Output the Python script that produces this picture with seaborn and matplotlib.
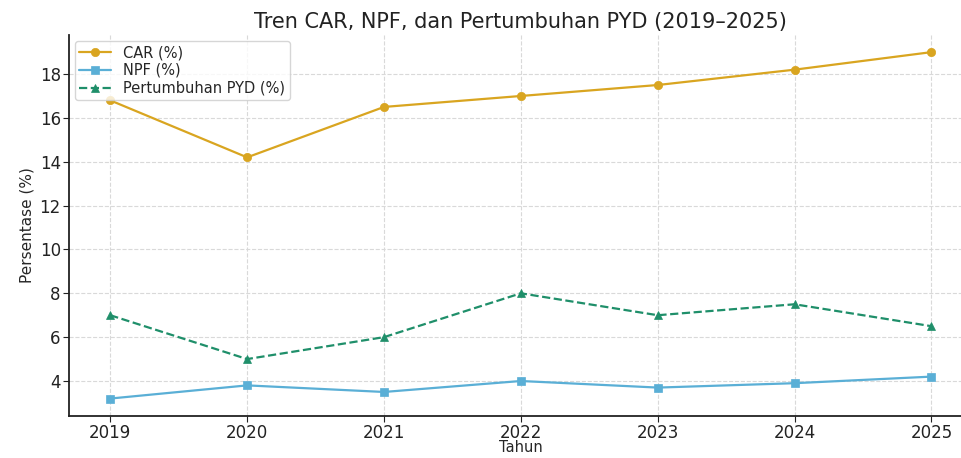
import matplotlib
matplotlib.use("Agg")
import matplotlib.pyplot as plt
import seaborn as sns

# data
tahun = [2019, 2020, 2021, 2022, 2023, 2024, 2025]
car = [16.8, 14.2, 16.5, 17.0, 17.5, 18.2, 19.0]
npf = [3.2, 3.8, 3.5, 4.0, 3.7, 3.9, 4.2]
pyd = [7.0, 5.0, 6.0, 8.0, 7.0, 7.5, 6.5]

sns.set_style("whitegrid", {"grid.linestyle": "--", "grid.color": "#d9d9d9",
                            "axes.edgecolor": "#222222",
                            "xtick.bottom": True, "ytick.left": True})

fig = plt.figure(figsize=(9.61, 4.58), dpi=100)
# axes run a bit past the right edge, like the cropped original
ax = fig.add_axes([0.072, 0.092, 0.94, 0.832])

series = [
    (car, "#d9a520", "o", "-", "CAR (%)"),
    (npf, "#5aafd6", "s", "-", "NPF (%)"),
    (pyd, "#1f8f6a", "^", "--", "Pertumbuhan PYD (%)"),
]
for vals, col, mk, ls, lab in series:
    sns.lineplot(x=tahun, y=vals, ax=ax, color=col, marker=mk, markersize=6,
                 markeredgecolor=col, markeredgewidth=0.5, linewidth=1.6,
                 linestyle=ls, label=lab)

sns.despine(ax=ax)
for s in ["left", "bottom"]:
    ax.spines[s].set_linewidth(1.3)
ax.grid(True, linewidth=0.8)
ax.set_xticks(tahun)
ax.tick_params(axis="both", labelsize=12, length=4, pad=2,
               color="#222222", labelcolor="#222222")
ax.set_title("Tren CAR, NPF, dan Pertumbuhan PYD (2019–2025)", fontsize=15,
             color="#222222", pad=5)
ax.set_xlabel("Tahun", fontsize=10.5)
ax.xaxis.set_label_coords(0.5, -0.064)
ax.set_ylabel("Persentase (%)", fontsize=11)
ax.legend(loc="upper left", fontsize=10.5, frameon=True, borderaxespad=0.4,
          handlelength=2.2, labelspacing=0.2, borderpad=0.3)

fig.savefig("out.png", dpi=100)
